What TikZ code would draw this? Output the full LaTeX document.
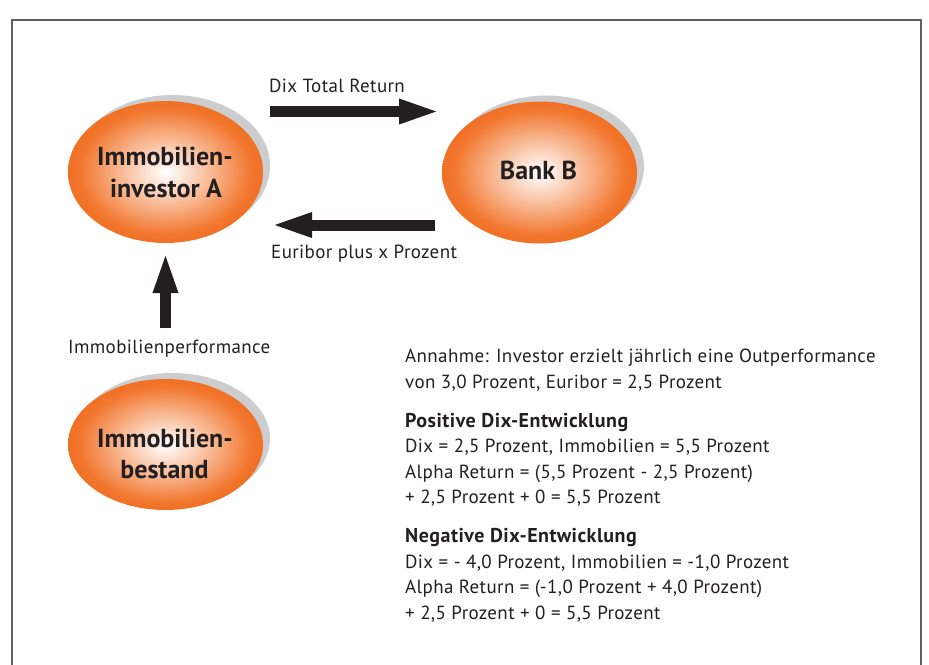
\documentclass[tikz,border=0pt]{standalone}
\usepackage{fontspec}
\setmainfont{PT Sans}
\newfontfamily\lblfont[LetterSpace=2]{PT Sans}
\newfontfamily\lblbfont[LetterSpace=2.5]{PT Sans}
\usetikzlibrary{arrows.meta,shapes.geometric,shadows}
\definecolor{ocol}{RGB}{241,112,36}
\definecolor{shadowgray}{RGB}{204,205,207}
\definecolor{ink}{RGB}{35,31,32}
\definecolor{framegray}{RGB}{95,95,95}
\pgfdeclareradialshading{orangeball}{\pgfpoint{0bp}{0bp}}{color(0bp)=(white); color(3bp)=(white!88!ocol); color(13bp)=(ocol!55!white); color(22bp)=(ocol!95!white); color(25bp)=(ocol); color(50bp)=(ocol)}
\tikzset{
  ball/.style={ellipse, inner sep=0pt, shading=orangeball,
    drop shadow={shadow xshift=7pt, shadow yshift=6pt, opacity=1, fill=shadowgray}},
  balltext/.style={anchor=base, inner sep=0pt, text=ink, font=\bfseries\fontsize{26}{30}\selectfont},
  lbl/.style={anchor=base west, inner sep=0pt, text=ink, font=\lblfont\fontsize{19}{23}\selectfont},
  lblb/.style={lbl, font=\lblbfont\bfseries\fontsize{20}{24}\selectfont},
  fatarrow/.style={draw=ink, line width=11pt, -{Triangle[length=42pt, width=22pt]}}
}
\begin{document}
\begin{tikzpicture}[x=1pt,y=-1pt]
\useasboundingbox (0,0) rectangle (929,664);
% frame
\draw[framegray, line width=1.5pt] (12,670) -- (12,20) -- (921,20) -- (921,670);

% ellipses
\node[ball, minimum width=195pt, minimum height=142pt] (inv) at (165.5,172) {};
\node[ball, minimum width=195pt, minimum height=142pt] (bank) at (539.5,172.5) {};
\node[ball, minimum width=195pt, minimum height=131pt] (best) at (165.5,444.5) {};

\node[balltext] (invT1) at (165,165) {Immobilien-};
\node[balltext] (invT2) at (166,197) {investor A};
\node[balltext] (bankT) at (538.5,179) {Bank B};
\node[balltext] (bestT1) at (165,447) {Immobilien-};
\node[balltext] (bestT2) at (164.5,478) {bestand};

% arrows
\coordinate (a1s) at (270,111.5);
\coordinate (a1e) at (441,111.5);
\coordinate (a2s) at (435,225);
\coordinate (a2e) at (270,225);
\coordinate (a3s) at (165.5,328);
\coordinate (a3e) at (165.5,251);
\draw[fatarrow] (a1s) -- (a1e);
\draw[fatarrow] (a2s) -- (a2e);
\draw[fatarrow] (a3s) -- (a3e);

% labels
\node[lbl] (l1) at (269,92) {Dix Total Return};
\node[lbl] (l2) at (271,258) {Euribor plus x Prozent};
\node[lbl] (l3) at (68,353) {Immobilienperformance};

% text block
\node[lbl] (t1) at (405,362) {Annahme: Investor erzielt jährlich eine Outperformance};
\node[lbl] (t2) at (405,388) {von 3,0 Prozent, Euribor = 2,5 Prozent};
\node[lblb] (t3) at (405,427) {Positive Dix-Entwicklung};
\node[lbl] (t4) at (405,452) {Dix = 2,5 Prozent, Immobilien = 5,5 Prozent};
\node[lbl] (t5) at (405,478) {Alpha Return = (5,5 Prozent - 2,5 Prozent)};
\node[lbl] (t6) at (405,503) {+ 2,5 Prozent + 0 = 5,5 Prozent};
\node[lblb] (t7) at (405,542) {Negative Dix-Entwicklung};
\node[lbl] (t8) at (405,568) {Dix = - 4,0 Prozent, Immobilien = -1,0 Prozent};
\node[lbl] (t9) at (405,593) {Alpha Return = (-1,0 Prozent + 4,0 Prozent)};
\node[lbl] (t10) at (405,619) {+ 2,5 Prozent + 0 = 5,5 Prozent};
\end{tikzpicture}
\end{document}
